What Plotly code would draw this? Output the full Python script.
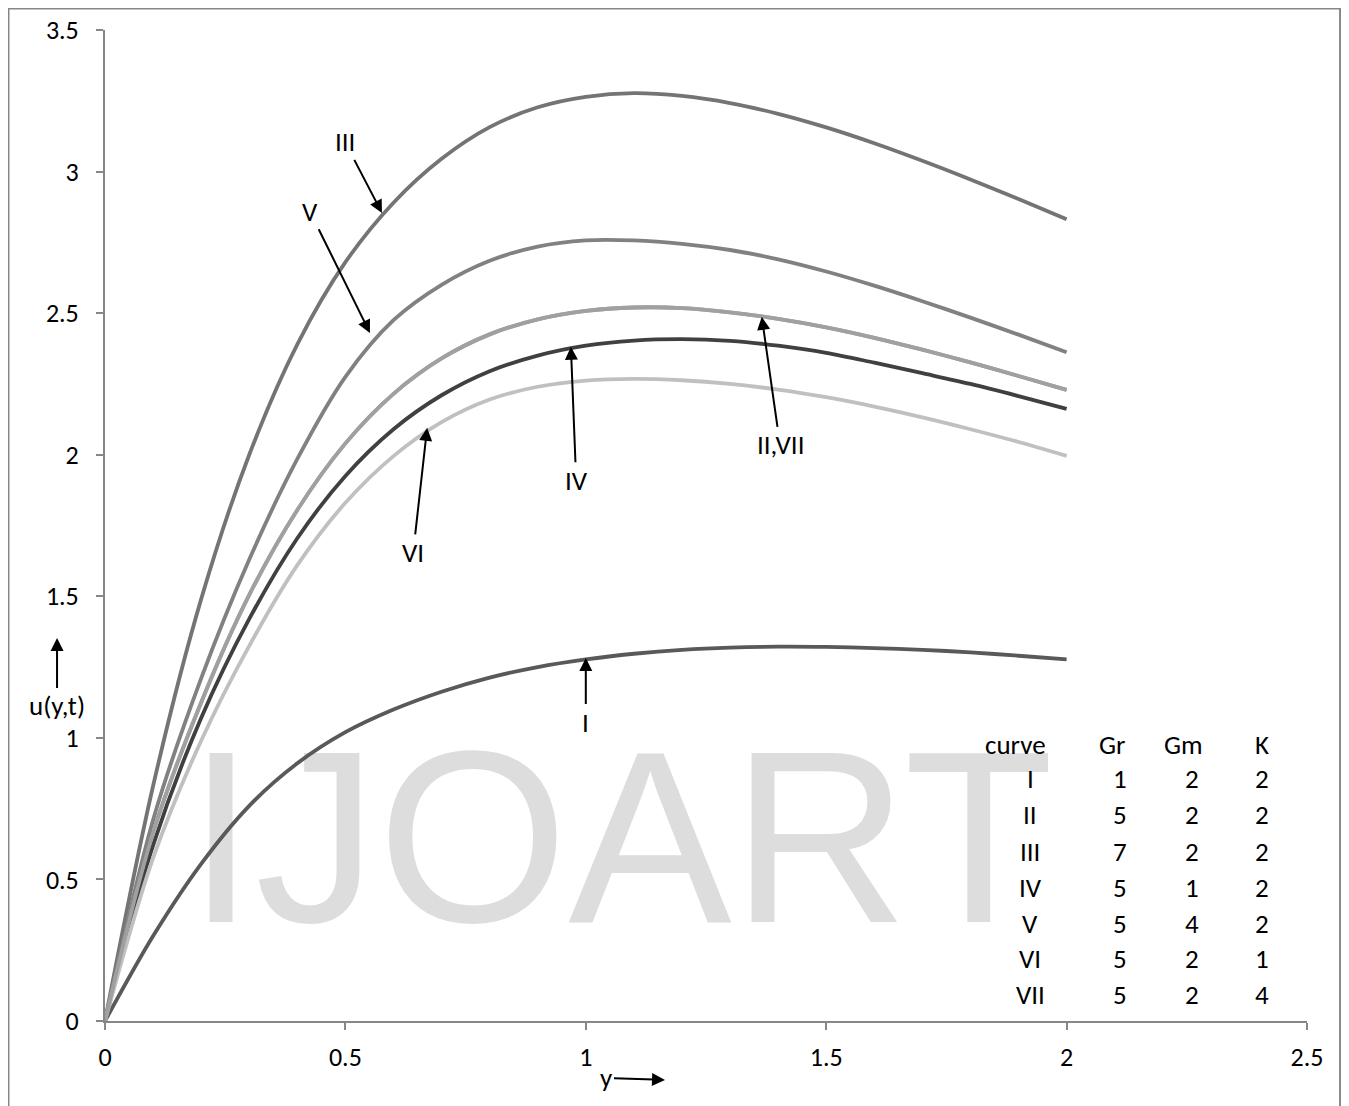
import plotly.graph_objects as go

# ---------------- data ----------------
y_pos = [0, 0.1, 0.2, 0.3, 0.4, 0.5, 0.6, 0.7, 0.8, 0.9, 1.0,
         1.1, 1.2, 1.3, 1.4, 1.5, 1.6, 1.7, 1.8, 1.9, 2.0]

u_I = [0, 0.30, 0.555, 0.76, 0.91, 1.02, 1.10, 1.163, 1.213, 1.25, 1.277,
       1.297, 1.311, 1.319, 1.322, 1.321, 1.317, 1.311, 1.302, 1.29, 1.277]
u_II = [0, 0.665, 1.125, 1.505, 1.805, 2.04, 2.215, 2.34, 2.425, 2.478, 2.508,
        2.52, 2.518, 2.503, 2.48, 2.45, 2.413, 2.371, 2.326, 2.278, 2.229]
u_III = [0, 0.83, 1.49, 2.00, 2.39, 2.68, 2.89, 3.045, 3.157, 3.227, 3.264,
         3.277, 3.267, 3.242, 3.204, 3.156, 3.10, 3.038, 2.972, 2.903, 2.832]
u_IV = [0, 0.62, 1.07, 1.42, 1.705, 1.925, 2.09, 2.21, 2.295, 2.35, 2.385,
        2.403, 2.408, 2.402, 2.385, 2.36, 2.325, 2.288, 2.25, 2.207, 2.162]
u_V = [0, 0.71, 1.21, 1.63, 1.985, 2.275, 2.475, 2.60, 2.685, 2.735, 2.757,
       2.757, 2.745, 2.723, 2.69, 2.647, 2.597, 2.542, 2.484, 2.424, 2.362]
u_VI = [0, 0.575, 0.99, 1.325, 1.61, 1.83, 1.995, 2.115, 2.195, 2.24, 2.262,
        2.268, 2.263, 2.25, 2.23, 2.203, 2.17, 2.132, 2.09, 2.045, 1.996]
u_VII = [0, 0.665, 1.125, 1.505, 1.805, 2.04, 2.215, 2.34, 2.425, 2.478, 2.508,
         2.52, 2.518, 2.503, 2.48, 2.45, 2.413, 2.371, 2.326, 2.278, 2.229]

curve_names = ["I", "II", "III", "IV", "V", "VI", "VII"]
Gr_vals = [1, 5, 7, 5, 5, 5, 5]
Gm_vals = [2, 2, 2, 1, 4, 2, 2]
K_vals = [2, 2, 2, 2, 2, 1, 4]

x_ticks = [0, 0.5, 1, 1.5, 2, 2.5]
y_ticks = [0, 0.5, 1, 1.5, 2, 2.5, 3, 3.5]

# ---------------- styling ----------------
FONT = "Carlito, Lato, 'Liberation Sans', sans-serif"
FS = 27
series = [
    ("I", u_I, "#595959"),
    ("II", u_II, "#a0a0a0"),
    ("III", u_III, "#747474"),
    ("IV", u_IV, "#404040"),
    ("V", u_V, "#818181"),
    ("VI", u_VI, "#c0c0c0"),
    ("VII", u_VII, "#a0a0a0"),
]

fig = go.Figure()

# watermark (behind the curves)
fig.add_trace(go.Scatter(
    x=[1.072], y=[0.567], mode="text", text=["IJOART"],
    textfont=dict(family="'Liberation Sans', Arial, sans-serif",
                  size=245, color="#dddddd"),
    textposition="middle center", hoverinfo="skip", showlegend=False,
    cliponaxis=False,
))

for name, vals, col in series:
    fig.add_trace(go.Scatter(
        x=y_pos, y=vals, mode="lines", name=name,
        line=dict(color=col, width=3.8, shape="spline", smoothing=0.9),
        showlegend=False,
    ))

ann = []
def arrow(text, tip, tail):
    ann.append(dict(
        x=tip[0], y=tip[1], ax=tail[0], ay=tail[1],
        xref="x", yref="y", axref="x", ayref="y",
        text=text, showarrow=True, arrowhead=2, arrowsize=1.3,
        arrowwidth=2, arrowcolor="black", standoff=0, startstandoff=0,
        font=dict(family=FONT, size=FS, color="black"),
    ))

arrow("III", (0.576, 2.854), (0.499, 3.105))
arrow("V", (0.551, 2.43), (0.426, 2.86))
arrow("VI", (0.670, 2.095), (0.641, 1.655))
arrow("IV", (0.969, 2.381), (0.980, 1.91))
arrow("II,VII", (1.366, 2.487), (1.404, 2.035))
arrow("I", (1.0, 1.282), (1.0, 1.056))

# axis-title arrows (outside the plotting area -> paper coordinates)
ann.append(dict(x=-0.0399, y=0.3865, xref="paper", yref="paper",
                ax=0, ay=68, axref="pixel", ayref="pixel",
                text="u(y,t)", showarrow=True, arrowhead=2, arrowsize=1.3,
                arrowwidth=2, arrowcolor="black", standoff=0,
                font=dict(family=FONT, size=FS, color="black")))
ann.append(dict(x=0.4659, y=-0.0595, xref="paper", yref="paper",
                ax=-59, ay=-2, axref="pixel", ayref="pixel",
                text="y", showarrow=True, arrowhead=2, arrowsize=1.3,
                arrowwidth=2, arrowcolor="black", standoff=0,
                font=dict(family=FONT, size=FS, color="black")))

# parameter table
head_x = [1.893, 2.094, 2.244, 2.406]
head_t = ["curve", "Gr", "Gm", "K"]
val_x = [1.924, 2.111, 2.261, 2.406]
row_y = [0.975, 0.858, 0.728, 0.600, 0.473, 0.346, 0.222, 0.095]
for hx, ht in zip(head_x, head_t):
    ann.append(dict(x=hx, y=row_y[0], xref="x", yref="y", text=ht, showarrow=False,
                    font=dict(family=FONT, size=FS, color="black")))
for i, nm in enumerate(curve_names):
    for cx, val in zip(val_x, [nm, Gr_vals[i], Gm_vals[i], K_vals[i]]):
        ann.append(dict(x=cx, y=row_y[i + 1], xref="x", yref="y", text=str(val),
                        showarrow=False, font=dict(family=FONT, size=FS, color="black")))

axis_common = dict(
    showgrid=False, zeroline=False, showline=True, linecolor="#878787", linewidth=2,
    ticks="outside", ticklen=7, tickwidth=2, tickcolor="#878787", automargin=False,
    tickfont=dict(family=FONT, size=FS - 1, color="black"),
)

fig.update_layout(
    width=1341, height=1098,
    margin=dict(l=97, r=42, t=22, b=85, autoexpand=False),
    paper_bgcolor="white", plot_bgcolor="white",
    xaxis=dict(range=[0, 2.5], tickvals=x_ticks, ticktext=[f"{v:g}" for v in x_ticks],
               ticklabelstandoff=5, **axis_common),
    yaxis=dict(range=[0, 3.5], tickvals=y_ticks, ticktext=[f"{v:g}" for v in y_ticks],
               ticklabelstandoff=12, **axis_common),
    annotations=ann,
    shapes=[dict(type="rect", xref="paper", yref="paper",
                 x0=-0.0803, x1=1.0275, y0=-0.2, y1=1.0217,
                 line=dict(color="#878787", width=2), layer="below")],
    showlegend=False,
)

fig.write_html("out.html")
